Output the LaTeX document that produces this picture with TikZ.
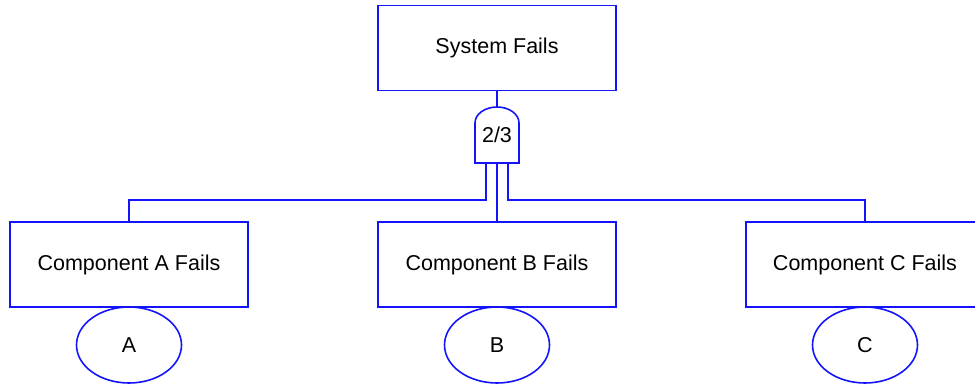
\documentclass[tikz,border=0pt]{standalone}
\usepackage{fontspec}
\setmainfont{Liberation Sans}
\definecolor{ftblue}{RGB}{20, 20, 250}
\usepackage{tikz}
\usetikzlibrary{shapes.geometric, positioning}

\tikzset{
  wire/.style={draw=ftblue, line width=1.6pt},
  eventbox/.style={draw=ftblue, line width=1.6pt, rectangle, outer sep=0pt,
    minimum width=238pt, minimum height=85pt, font=\fontsize{21.5}{26}\selectfont},
  basicev/.style={draw=ftblue, line width=1.6pt, ellipse, outer sep=0pt, inner sep=0pt,
    minimum width=105pt, minimum height=76pt, font=\fontsize{21.5}{26}\selectfont},
  gatebox/.style={rectangle, outer sep=0pt, inner sep=0pt,
    minimum width=44pt, minimum height=56pt, font=\fontsize{21.5}{26}\selectfont}
}

\begin{document}
\begin{tikzpicture}[x=1pt, y=-1pt]
  \useasboundingbox (0,0) rectangle (975,387);

  % Top event
  \node[eventbox] (sys) at (497,48) {System Fails};

  % 2/3 voting gate
  \node[gatebox] (gate) at (497,135) {\raisebox{-3pt}{2/3}};
  \draw[wire] (gate.south west) -- ++(0,-40)
    arc[start angle=180, end angle=0, x radius=22pt, y radius=16pt]
    -- (gate.south east) -- cycle;

  % Component events
  \node[eventbox] (compA) at (129,264.5) {Component A Fails};
  \node[eventbox] (compB) at (497,264.5) {Component B Fails};
  \node[eventbox] (compC) at (865,264.5) {Component C Fails};

  % Basic events
  \node[basicev, below=0pt of compA] (evA) {A};
  \node[basicev, below=0pt of compB] (evB) {B};
  \node[basicev, below=0pt of compC] (evC) {C};

  % Connectors
  \draw[wire] (sys.south) -- (gate.north);
  \draw[wire] ([xshift=-11pt]gate.south) -- ++(0,37) -| (compA.north);
  \draw[wire] (gate.south) -- (compB.north);
  \draw[wire] ([xshift=11pt]gate.south) -- ++(0,37) -| (compC.north);
\end{tikzpicture}
\end{document}
